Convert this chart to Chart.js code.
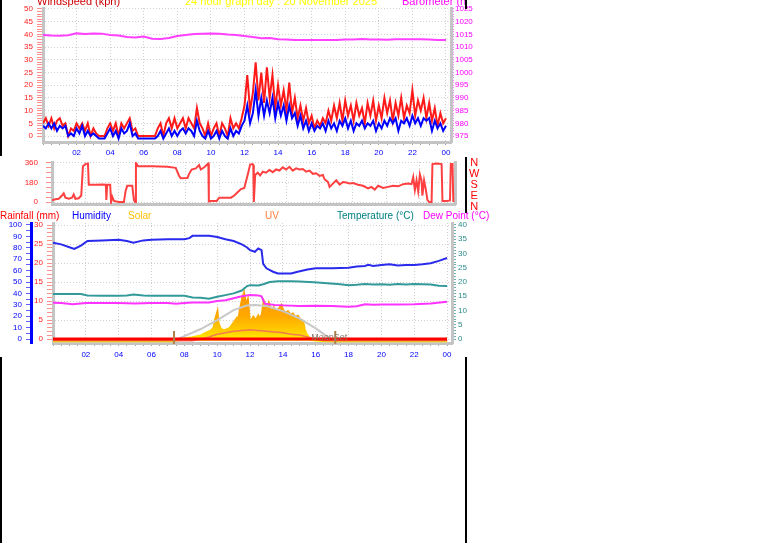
<!DOCTYPE html>
<html>
<head>
<meta charset="utf-8">
<title>24 hour graph day : 20 November 2025</title>
<script src="https://cdn.jsdelivr.net/npm/chart.js@4.4.1/dist/chart.umd.min.js"></script>
<style>
  html, body { margin: 0; padding: 0; background: #fff; }
  body { position: relative; width: 761px; height: 543px; overflow: hidden;
         font-family: "Liberation Sans", Arial, sans-serif; }
  canvas, .lbl, .rule { position: absolute; }
  .lbl { white-space: nowrap; line-height: 11px; }
  .rule { background: #000; width: 2px; }
  #titles { position: absolute; left: 0; top: 0; width: 466px; height: 12px; overflow: hidden; }
</style>
</head>
<body>
<canvas id="windChart" width="500" height="160" style="left:0;top:0"></canvas>
<canvas id="dirChart" width="500" height="50" style="left:0;top:156px"></canvas>
<canvas id="climateChart" width="500" height="142" style="left:0;top:220px"></canvas>

<div id="titles">
  <span class="lbl" style="left:37px;top:-4px;font-size:11px;color:#cc0000">Windspeed (kph)</span>
  <span class="lbl" style="left:185px;top:-4px;font-size:11px;color:#ffff00">24 hour graph day : 20 November 2025</span>
  <span class="lbl" style="left:402px;top:-4px;font-size:11px;color:#ff00ff">Barometer (hPa)</span>
</div>

<div class="lbl" style="left:469px;top:157px;font-size:11px;color:#ff0000;text-align:center">N<br>W<br>S<br>E<br>N</div>

<span class="lbl" style="left:0;top:210px;font-size:10px;color:#ff0000">Rainfall (mm)</span>
<span class="lbl" style="left:72px;top:210px;font-size:10px;color:#0000ff">Humidity</span>
<span class="lbl" style="left:128px;top:210px;font-size:10px;color:#ffbf00">Solar</span>
<span class="lbl" style="left:265px;top:210px;font-size:10px;color:#ff8040">UV</span>
<span class="lbl" style="left:337px;top:210px;font-size:10px;color:#008080">Temperature (°C)</span>
<span class="lbl" style="left:423px;top:210px;font-size:10px;color:#ff00ff">Dew Point (°C)</span>

<div class="rule" style="left:0;top:0;height:156px"></div>
<div class="rule" style="left:0;top:357px;height:186px"></div>
<div class="rule" style="left:465px;top:0;height:9px"></div>
<div class="rule" style="left:465px;top:157px;height:56px"></div>
<div class="rule" style="left:465px;top:357px;height:186px"></div>

<script>
// ------------------------------------------------------------
// DATA  (20 November 2025)
// ------------------------------------------------------------

// x axis tick labels, one per even hour
const hourLabels = ['02', '04', '06', '08', '10', '12', '14', '16', '18', '20', '22', '00'];

// wind, kph, one sample every 10 minutes from 00:00 to 24:00
const windGust = [
  5, 7, 4, 7, 3, 6, 7, 4, 5, 0, 3, 2, 5, 3, 5, 2, 5, 0, 3, 1, 0, 0, 0, 3,
  5, 2, 5, 0, 5, 3, 5, 7, 2, 3, 0, 0, 0, 0, 0, 0, 0, 3, 5, 0, 5, 7, 3, 7,
  3, 5, 7, 3, 7, 5, 3, 11, 5, 3, 0, 5, 0, 3, 5, 0, 5, 3, 0, 7, 3, 5, 3, 7,
  12, 24, 10, 17, 29, 14, 25, 13, 27, 15, 24, 11, 20, 12, 18, 10, 21, 9, 15, 7, 12, 6, 11, 5,
  8, 3, 6, 4, 7, 5, 10, 6, 12, 7, 13, 6, 14, 8, 12, 6, 13, 8, 11, 5, 13, 8, 14, 6,
  12, 7, 15, 9, 14, 6, 13, 8, 15, 7, 12, 9, 18, 8, 14, 10, 15, 7, 13, 6, 11, 4, 9, 5,
  7
];
const windAvg = [
  4, 3, 5, 3, 5, 2, 4, 3, 4, 0, 1, 0, 3, 1, 4, 0, 2, 0, 1, 0, -1, -1, -1, 1,
  3, 0, 2, -1, 3, 1, 2, 5, 0, 1, -1, -1, -1, -1, -1, -1, -1, 0, 2, -1, 1, 3, 0, 2,
  0, 2, 3, 1, 3, 2, 0, 6, 2, 0, -1, 2, -1, 0, 2, -1, 2, 0, -1, 3, 0, 2, 1, 4,
  6, 12, 5, 9, 18, 8, 15, 8, 14, 9, 15, 7, 13, 8, 12, 6, 12, 7, 9, 4, 8, 3, 6, 2,
  5, 2, 4, 3, 5, 2, 6, 3, 5, 2, 6, 4, 7, 3, 6, 2, 5, 4, 6, 3, 5, 4, 6, 2,
  5, 3, 6, 4, 7, 5, 7, 2, 6, 5, 7, 4, 8, 5, 7, 4, 7, 6, 7, 2, 6, 3, 5, 2,
  4
];

// barometer, hPa, every 30 minutes
const baroValues = [
  1014.8, 1014.6, 1014.5, 1014.7, 1015.4, 1015.2, 1015.4, 1015.3, 1014.8, 1014.6,
  1014.0, 1013.8, 1014.2, 1013.3, 1013.2, 1013.6, 1014.4, 1014.8, 1015.2, 1015.3,
  1015.4, 1015.3, 1015.0, 1014.8, 1014.4, 1014.0, 1013.5, 1013.6, 1013.1, 1013.0,
  1012.8, 1012.8, 1012.8, 1012.8, 1012.8, 1012.8, 1013.0, 1013.0, 1013.2, 1013.0,
  1013.0, 1012.9, 1013.1, 1013.1, 1013.1, 1013.1, 1013.0, 1012.8, 1012.8
];

// wind direction, degrees
const dirTimes = [
  0.0, 0.2, 0.4, 0.6, 0.7, 0.8, 1.0, 1.2, 1.3, 1.4, 1.6, 1.75, 1.85, 2.0, 2.15, 2.2, 2.6, 3.0, 3.22, 3.25,
  3.3, 3.48, 3.53, 3.6, 3.7, 4.0, 4.3, 4.4, 4.5, 4.8, 4.9, 4.97, 5.02, 5.15, 6.0, 6.9, 7.4, 7.6, 7.7, 8.1,
  8.2, 8.35, 8.6, 8.8, 8.9, 9.1, 9.35, 9.38, 9.5, 9.85, 10.0, 10.7, 10.9, 11.1, 11.3, 11.5, 11.7, 11.85, 12.0, 12.04,
  12.07, 12.15, 12.3, 12.45, 12.6, 12.8, 13.0, 13.2, 13.4, 13.6, 13.8, 14.0, 14.2, 14.4, 14.6, 14.8, 15.0, 15.2, 15.4, 15.6,
  15.8, 16.0, 16.2, 16.3, 16.5, 16.6, 16.8, 17.0, 17.2, 17.4, 17.6, 17.8, 18.0, 18.3, 18.6, 18.9, 19.1, 19.3, 19.5, 19.8,
  20.1, 20.4, 20.7, 21.0, 21.3, 21.5, 21.6, 21.7, 21.8, 21.9, 22.0, 22.1, 22.15, 22.25, 22.35, 22.45, 22.55, 22.7, 22.75, 23.0,
  23.3, 23.35, 23.6, 23.8, 23.85, 23.95, 24.0
];
const dirValues = [
  15, 25, 30, 60, 80, 40, 30, 40, 70, 30, 35, 60, 330, 350, 355, 160, 160, 162, 160, 20,
  160, 160, 0, 50, 10, 0, 0, 100, 150, 150, 20, 0, 360, 330, 330, 325, 315, 240, 220, 222,
  260, 300, 310, 340, 300, 320, 355, 5, 10, 10, 40, 40, 60, 90, 120, 130, 250, 345, 350, 340,
  0, 250, 270, 245, 280, 270, 295, 275, 300, 290, 320, 300, 325, 290, 310, 300, 305, 280, 290, 260,
  265, 240, 250, 210, 185, 140, 170, 200, 160, 185, 180, 170, 175, 160, 150, 125, 140, 115, 150, 130,
  140, 150, 145, 165, 170, 165, 230, 110, 200, 100, 255, 200, 60, 200, 120, 20, 0, 0, 350, 355,
  350, 10, 10, 15, 350, 350, 0
];

// humidity, %
const humTimes = [0, 0.5, 1.0, 1.3, 1.7, 2.1, 3, 4, 4.5, 4.9, 5.5, 6, 7, 8, 8.3, 8.5, 9.5, 10, 10.5, 11,
  11.5, 11.8, 12.0, 12.3, 12.5, 12.7, 12.8, 13.0, 13.4, 13.7, 14.5, 14.9, 15.5, 16, 17, 18, 18.5, 19, 19.2, 19.5,
  20, 20.5, 21, 21.5, 22, 22.5, 23, 23.5, 24];
const humValues = [84.5, 83, 80.5, 79, 82, 86, 86.5, 87, 86, 84.5, 86.5, 87, 87.5, 87.5, 88.5, 90.5, 90.5, 89.5, 87.5, 86,
  83, 80.5, 78, 76.5, 79.5, 78, 66, 62, 59, 57.5, 57.5, 59, 61, 62, 62, 62.5, 63.5, 64, 65, 64,
  65, 65.5, 64.5, 65, 65, 65.5, 66.5, 68.5, 71];

// temperature, °C
const tempTimes = [0, 1, 1.7, 2.1, 3, 4, 4.5, 4.9, 5.5, 6, 7, 8, 8.5, 9, 9.5, 10, 10.5, 11, 11.5, 11.8,
  12, 12.5, 12.8, 13.2, 13.7, 14.5, 15, 15.9, 16.9, 17.5, 18, 18.5, 19, 19.5, 20, 20.5, 21, 21.5, 22, 22.5,
  23, 23.5, 24];
const tempValues = [15.8, 15.8, 15.8, 15.3, 15.2, 15.2, 15.3, 15.6, 15.3, 15.2, 15.2, 15.2, 14.6, 14.5, 14.1, 14.8, 15.4, 16, 17, 18.5,
  18.9, 18.8, 19.2, 20, 20.3, 20.3, 20.2, 19.9, 19.5, 19.2, 18.9, 19.0, 19.3, 19.1, 19.2, 19.0, 19.3, 19.1, 19.3, 19.2,
  19.1, 18.7, 18.6];

// dew point, °C
const dewTimes = [0, 0.5, 1.2, 2, 3, 4, 5, 6, 7, 7.5, 8, 8.5, 9.5, 10, 10.5, 11, 11.5, 12, 12.5, 12.7,
  12.9, 13.5, 14, 15, 16, 17, 18, 18.5, 19, 19.5, 20, 21, 22, 23, 24];
const dewValues = [12.7, 12.6, 12.2, 12.6, 12.6, 12.6, 12.5, 12.6, 12.6, 12.4, 12.6, 12.8, 12.8, 13.3, 13.6, 14.3, 15.0, 15.4, 15.3, 15.0,
  12.4, 11.9, 11.8, 11.6, 11.7, 11.6, 11.3, 11.5, 12.2, 12.0, 12.1, 12.1, 12.2, 12.5, 13.1];

// rainfall, mm
const rainTimes = [0, 24];
const rainValues = [0, 0];

// solar radiation, W/m²
const solarTimes = [0, 7.3, 7.5, 8, 8.5, 9.0, 9.2, 9.4, 9.6, 9.8, 9.9, 10.0, 10.05, 10.2, 10.4, 10.6, 10.8, 11.0, 11.2, 11.3,
  11.4, 11.5, 11.55, 11.65, 11.75, 11.85, 11.95, 12.05, 12.2, 12.35, 12.5, 12.6, 12.75, 12.85, 12.95, 13.05, 13.15, 13.3, 13.45, 13.6,
  13.75, 13.9, 14.0, 14.15, 14.3, 14.45, 14.6, 14.75, 14.9, 15.05, 15.2, 15.3, 15.4, 15.5, 15.6, 15.8, 16.0, 16.5, 24];
const solarValues = [0, 0, 5, 15, 25, 40, 55, 70, 80, 110, 180, 230, 150, 100, 85, 95, 110, 150, 190, 160,
  260, 330, 250, 378, 300, 340, 180, 160, 200, 170, 210, 180, 230, 330, 300, 260, 310, 240, 280, 250,
  270, 300, 260, 240, 250, 220, 230, 200, 210, 180, 170, 100, 60, 40, 20, 10, 5, 0, 0];

// theoretical clear-sky solar, W/m²
const sunMaxTimes = [7.35, 8, 9, 10, 11, 11.8, 12.3, 13, 14, 15, 16, 16.7, 17.1];
const sunMaxValues = [0, 40, 101, 179, 265, 305, 310, 300, 256, 194, 107, 35, 0];

// UV index
const uvTimes = [0, 8.5, 9, 9.5, 10, 10.5, 11, 11.5, 12, 12.5, 13, 13.5, 14, 14.5, 15, 15.5, 16, 16.5, 24];
const uvValues = [0, 0, 0.2, 0.5, 0.9, 1.1, 1.3, 1.4, 1.5, 1.4, 1.3, 1.2, 1.1, 0.9, 0.8, 0.5, 0.2, 0, 0];

// moon rise / set markers
const moonTimes = [7.37, 17.19];
const moonLabels = ['', 'MoonSet'];

// ------------------------------------------------------------
// HELPERS
// ------------------------------------------------------------

const TICK_FONT = { family: 'Liberation Sans, Arial, sans-serif', size: 8 };
const FRAME = '#c4c4c4';
const GRID = '#d0d0d0';

const pts = (times, values) => times.map((t, i) => ({ x: t, y: values[i] }));
const windTimes = windGust.map((_, i) => i / 6);
const baroTimes = baroValues.map((_, i) => i / 2);

// keep the plot area where we put it: no extra room for half-labels
function noPad(s) {
  s.paddingTop = 0; s.paddingBottom = 0; s.paddingLeft = 0; s.paddingRight = 0;
}

function hourAxis(height, showLabels, labelPad) {
  return {
    type: 'linear', position: 'bottom', min: 0, max: 24.3,
    afterBuildTicks: s => { s.ticks = s.ticks.filter(t => t.value <= 24); },
    afterFit: s => { s.height = height; noPad(s); },
    ticks: {
      display: showLabels, stepSize: 0.5, autoSkip: false, includeBounds: false,
      maxRotation: 0, minRotation: 0, padding: labelPad || 2, color: '#0000ff', font: TICK_FONT,
      callback: v => (v > 0 && v % 2 === 0) ? hourLabels[v / 2 - 1] : ''
    },
    grid: {
      color: c => (c.tick && c.tick.value > 0 && c.tick.value % 2 === 0) ? GRID : 'transparent',
      drawTicks: showLabels, tickLength: 3, tickColor: '#a0a0a0'
    },
    border: { color: FRAME, width: 3, dash: [1, 2] }
  };
}

// value axis: minor tick every `step`, label (and grid line) every `major`
function valueAxis(o) {
  return {
    type: 'linear', position: o.position, min: o.min, max: o.max, weight: o.weight || 0,
    afterBuildTicks: s => { s.ticks = s.ticks.filter(t => t.value >= o.from && t.value <= o.to); },
    afterFit: s => { s.width = o.width; noPad(s); },
    ticks: {
      stepSize: o.step, autoSkip: false, includeBounds: false, padding: o.padding,
      color: o.color, font: TICK_FONT,
      callback: v => (v % o.major === 0) ? String(v) : ''
    },
    grid: {
      drawOnChartArea: !!o.grid,
      color: c => (c.tick && c.tick.value % o.major === 0) ? GRID : 'transparent',
      tickLength: o.tick, tickColor: o.tickColor
    },
    border: { color: o.border || FRAME, width: 3, dash: [1, 2] }
  };
}

const line = (data, color, width, axis) => ({
  data, borderColor: color, borderWidth: width, yAxisID: axis,
  pointRadius: 0, tension: 0, fill: false
});

const baseOptions = (padTop, scales) => ({
  responsive: false, animation: false,
  layout: { padding: { top: padTop, left: 0, right: 0, bottom: 0 }, autoPadding: false },
  plugins: { legend: { display: false }, tooltip: { enabled: false } },
  scales
});

// ------------------------------------------------------------
// PANEL 1: wind speed + barometer
// ------------------------------------------------------------

new Chart(document.getElementById('windChart'), {
  type: 'line',
  data: {
    datasets: [
      line(pts(windTimes, windAvg), '#0000ff', 2, 'yW'),
      line(pts(windTimes, windGust), '#ff1a1a', 2, 'yW'),
      line(pts(baroTimes, baroValues), '#ff40ff', 2, 'yB')
    ]
  },
  options: baseOptions(8, {
    x: hourAxis(18, true, 3),
    yW: valueAxis({ position: 'left', min: -2.36, max: 50.39, from: 0, to: 50, step: 1, major: 5,
      width: 43, tick: 6, padding: 4, color: '#ff2020', tickColor: '#ff9090', grid: true }),
    yB: valueAxis({ position: 'right', min: 972.64, max: 1025.39, from: 975, to: 1025, step: 1, major: 5,
      width: 49, tick: 3, padding: 1, color: '#ff00ff', tickColor: '#ff80ff' })
  })
});

// ------------------------------------------------------------
// PANEL 2: wind direction
// ------------------------------------------------------------

new Chart(document.getElementById('dirChart'), {
  type: 'line',
  data: { datasets: [line(pts(dirTimes, dirValues), '#ff4040', 2, 'yD')] },
  options: baseOptions(6, {
    x: Object.assign(hourAxis(2, false), { max: 24.1 }),
    yD: valueAxis({ position: 'left', min: -18, max: 369, from: 0, to: 360, step: 45, major: 180,
      width: 52, tick: 6, padding: 8, color: '#ff2020', tickColor: '#ff9090', grid: true }),
    yR: {
      position: 'right', min: 0, max: 1,
      afterFit: s => { s.width = 45; noPad(s); },
      ticks: { display: false },
      grid: { drawOnChartArea: false, drawTicks: false },
      border: { color: FRAME, width: 3 }
    }
  })
});

// ------------------------------------------------------------
// PANEL 3: rain, humidity, solar, UV, temperature, dew point
// ------------------------------------------------------------

const moonMarks = {
  id: 'moonMarks',
  afterDatasetsDraw(chart) {
    const { ctx, chartArea, scales: { x } } = chart;
    ctx.save();
    moonTimes.forEach((t, i) => {
      const px = x.getPixelForValue(t);
      ctx.strokeStyle = '#b0804a';
      ctx.lineWidth = 2;
      ctx.beginPath();
      ctx.moveTo(px, chartArea.bottom - 12);
      ctx.lineTo(px, chartArea.bottom + 1);
      ctx.stroke();
      if (moonLabels[i]) {
        ctx.fillStyle = '#8a7664';
        ctx.font = '9px "Liberation Sans", Arial, sans-serif';
        ctx.textAlign = 'center';
        ctx.textBaseline = 'middle';
        ctx.fillText(moonLabels[i], px - 6, chartArea.bottom - 5);
      }
    });
    ctx.restore();
  }
};

function solarFill(c) {
  const area = c.chart.chartArea;
  if (!area) return '#ffb000';
  const g = c.chart.ctx.createLinearGradient(0, area.bottom, 0, area.bottom - 45);
  g.addColorStop(0, '#ffff00');
  g.addColorStop(0.25, '#ffd000');
  g.addColorStop(0.6, '#ffa800');
  g.addColorStop(1, '#ff9a00');
  return g;
}

new Chart(document.getElementById('climateChart'), {
  type: 'line',
  data: {
    datasets: [
      line(pts(rainTimes, rainValues), '#ff0000', 3, 'yRain'),
      line(pts(uvTimes, uvValues), 'rgba(240,110,90,0.9)', 1.5, 'yUV'),
      line(pts(dewTimes, dewValues), '#ff33ff', 2, 'yT'),
      line(pts(tempTimes, tempValues), '#339999', 2, 'yT'),
      line(pts(humTimes, humValues), '#2a2aee', 2, 'yHum'),
      line(pts(sunMaxTimes, sunMaxValues), '#c8c8c8', 2, 'ySol'),
      Object.assign(line(pts(solarTimes, solarValues), solarFill, 3, 'ySol'),
        { fill: 'origin', backgroundColor: solarFill })
    ]
  },
  options: baseOptions(3, {
    x: hourAxis(19, true, 4),
    yHum: valueAxis({ position: 'left', weight: 1, min: -3.5, max: 101.75, from: 0, to: 100, step: 5, major: 10,
      width: 31, tick: 5, padding: 4, color: '#0000ff', tickColor: '#6060ff', border: '#0000ff' }),
    yRain: valueAxis({ position: 'left', weight: 0, min: -1.05, max: 30.53, from: 0, to: 30, step: 1, major: 5,
      width: 22, tick: 6, padding: 4, color: '#ff2020', tickColor: '#ff9090', grid: true }),
    yT: valueAxis({ position: 'right', min: -1.4, max: 40.7, from: 0, to: 40, step: 1, major: 5,
      width: 48, tick: 4, padding: 2, color: '#2a8a8a', tickColor: '#70b0b0' }),
    ySol: { display: false, min: -20, max: 1020 },
    yUV: { display: false, min: -0.32, max: 16.26 }
  }),
  plugins: [moonMarks]
});
</script>
</body>
</html>
